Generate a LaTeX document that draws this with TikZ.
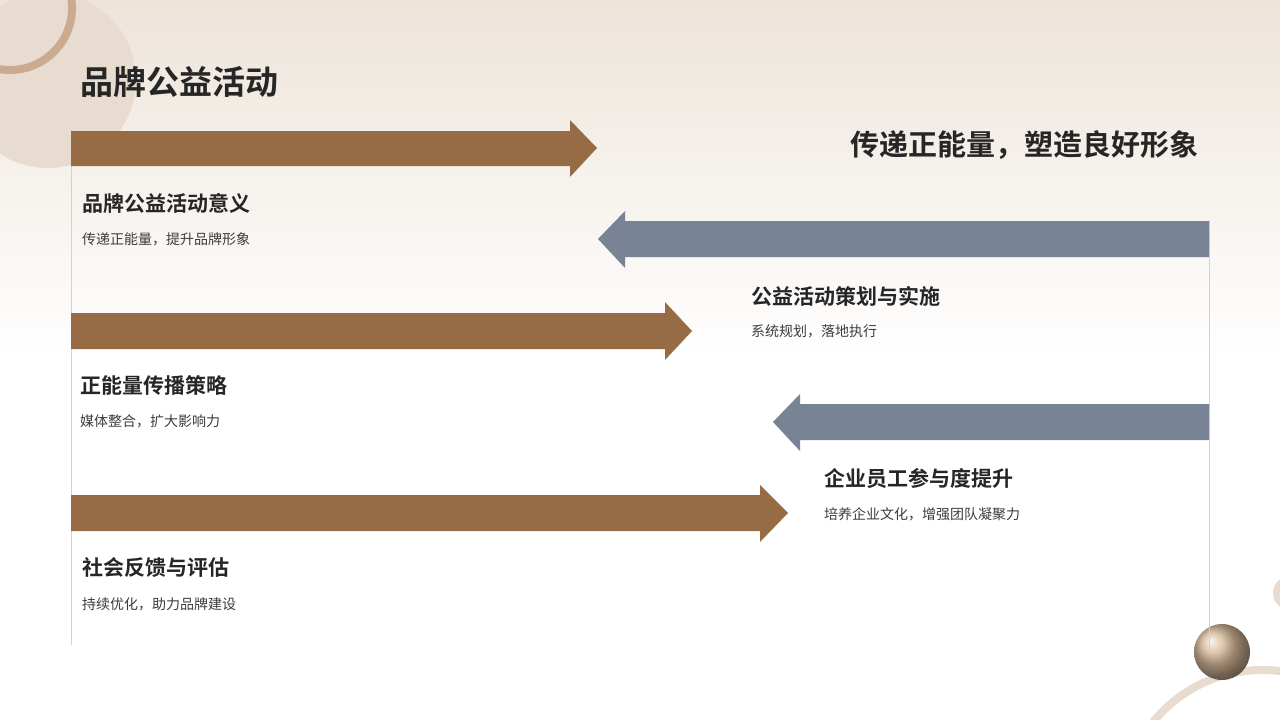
\documentclass[tikz,border=0pt]{standalone}
\usepackage{fontspec}
\newfontfamily\cjk{Noto Sans CJK SC}
\newfontfamily\cjkb{Noto Sans CJK SC Bold}
\begin{document}
\begin{tikzpicture}[x=1pt,y=-1pt,
  brown/.style={fill={rgb,255:red,151;green,108;blue,69}},
  grey/.style={fill={rgb,255:red,120;green,132;blue,150}},
  head/.style={font=\cjkb\fontsize{21}{24}\selectfont,text={rgb,255:red,38;green,38;blue,38},anchor=west,inner sep=0},
  sub/.style={font=\cjk\fontsize{14}{16}\selectfont,text={rgb,255:red,60;green,60;blue,60},anchor=west,inner sep=0}]
\definecolor{bg}{RGB}{237,228,218}
\definecolor{beige}{RGB}{232,220,208}
\definecolor{tan}{RGB}{190,150,115}
\useasboundingbox (0,0) rectangle (1280,720);
\fill[white] (0,0) rectangle (1280,720);
\shade[top color=bg,bottom color=white] (0,0) rectangle (1280,360);
% decorations
\fill[beige] (48,80) circle (88);
\draw[line width=8pt,tan!80] (10,8) circle (62);
\draw[line width=8pt,beige] (1262,810) circle (140);
\shade[ball color={rgb,255:red,205;green,170;blue,135},opacity=0.9] (1222,652) circle (28);
\fill[beige] (1290,593) circle (17);
% vertical lines
\draw[gray!35,line width=0.8pt] (71,130) -- (71,645);
\draw[gray!35,line width=0.8pt] (1209,220) -- (1209,648);
% arrows
\fill[brown] (71,131) -- (570,131) -- (570,120) -- (597,148) -- (570,177) -- (570,166) -- (71,166) -- cycle;
\fill[brown] (71,313) -- (665,313) -- (665,302) -- (692,331) -- (665,360) -- (665,349) -- (71,349) -- cycle;
\fill[brown] (71,495) -- (760,495) -- (760,485) -- (788,513) -- (760,542) -- (760,531) -- (71,531) -- cycle;
\fill[grey] (1209,221) -- (625,221) -- (625,211) -- (598,239) -- (625,268) -- (625,257) -- (1209,257) -- cycle;
\fill[grey] (1209,404) -- (800,404) -- (800,394) -- (773,422) -- (800,451) -- (800,440) -- (1209,440) -- cycle;
% texts
\node[head,font=\cjkb\fontsize{33}{36}\selectfont] (title) at (80,82) {品牌公益活动};
\node[head,anchor=east,font=\cjkb\fontsize{29}{32}\selectfont] (slogan) at (1199,145) {传递正能量，塑造良好形象};
\node[head] (h1) at (82,203) {品牌公益活动意义};
\node[sub] (s1) at (82,239) {传递正能量，提升品牌形象};
\node[head] (h2) at (751,296) {公益活动策划与实施};
\node[sub] (s2) at (751,331) {系统规划，落地执行};
\node[head] (h3) at (80,385) {正能量传播策略};
\node[sub] (s3) at (80,421) {媒体整合，扩大影响力};
\node[head] (h4) at (824,478) {企业员工参与度提升};
\node[sub] (s4) at (824,514) {培养企业文化，增强团队凝聚力};
\node[head] (h5) at (82,568) {社会反馈与评估};
\node[sub] (s5) at (82,604) {持续优化，助力品牌建设};
\end{tikzpicture}
\end{document}
